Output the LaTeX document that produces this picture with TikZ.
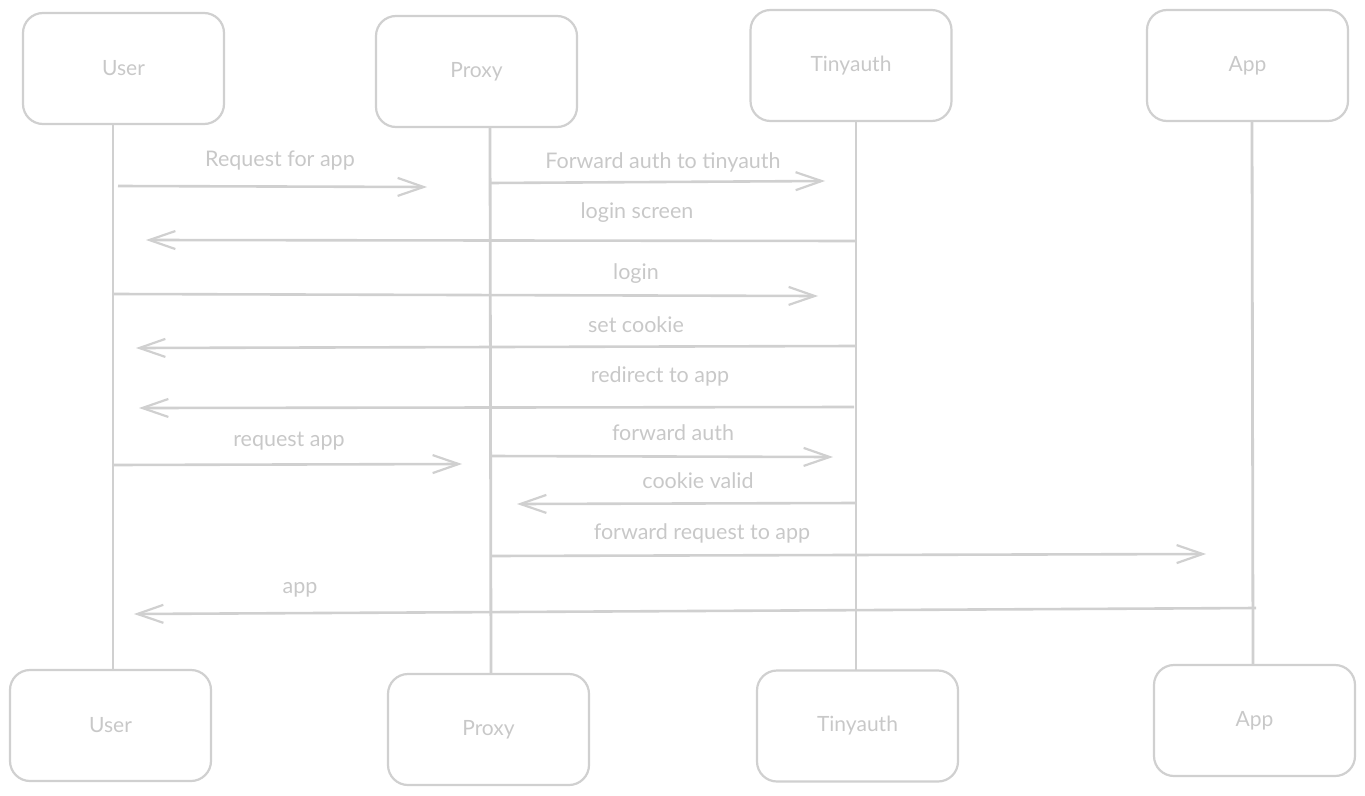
\documentclass[tikz,border=0pt]{standalone}
\usepackage{fontspec}
\setmainfont{Lato}
\usetikzlibrary{arrows.meta}
\definecolor{strk}{RGB}{208,208,208}
\definecolor{txt}{RGB}{200,200,200}
\tikzset{
  actor/.style={draw=strk, line width=2.2pt, rounded corners=20pt, minimum width=201pt, minimum height=111pt, text=txt, font=\fontsize{21}{24}\selectfont, inner sep=0pt},
  life/.style={draw=strk, line width=2.8pt},
  msg/.style={draw=strk, line width=2.6pt, -{Straight Barb[length=26pt,width=18pt,line width=2.2pt]}},
  lbl/.style={text=txt, font=\fontsize{21.5}{24}\selectfont, inner sep=0pt}
}
\begin{document}
\begin{tikzpicture}[x=1pt,y=-1pt]
\useasboundingbox (0,0) rectangle (1365,795);
% top actors
\node[actor] (ut) at (123.5,68.5) {User};
\node[actor] (pt) at (476.5,71.5) {Proxy};
\node[actor] (tt) at (851,65.5) {Tinyauth};
\node[actor] (at) at (1247.5,65.5) {App};
% bottom actors
\node[actor] (ub) at (110.5,725.5) {User};
\node[actor] (pb) at (488.5,729.5) {Proxy};
\node[actor] (tb) at (857.5,726) {Tinyauth};
\node[actor] (ab) at (1254.5,720.5) {App};
% lifelines
\draw[life] (113,124) coordinate (ul1) -- (113,670) coordinate (ul2);
\draw[life] (490,127) coordinate (pl1) -- (491,674) coordinate (pl2);
\draw[life] (856,121) coordinate (tl1) -- (856,671) coordinate (tl2);
\draw[life] (1252,121) coordinate (al1) -- (1253,665) coordinate (al2);
% messages
\coordinate (m1a) at (118,186); \coordinate (m1b) at (427,187);
\draw[msg] (m1a) -- (m1b);
\node[lbl] (l1) at (280,161) {Request for app};
\coordinate (m2a) at (490,183); \coordinate (m2b) at (825,181);
\draw[msg] (m2a) -- (m2b);
\node[lbl] (l2) at (663,162) {Forward auth to tinyauth};
\coordinate (m3a) at (856,241); \coordinate (m3b) at (146,240);
\draw[msg] (m3a) -- (m3b);
\node[lbl] (l3) at (637,213) {login screen};
\coordinate (m4a) at (113,294); \coordinate (m4b) at (818,296);
\draw[msg] (m4a) -- (m4b);
\node[lbl] (l4) at (636,274) {login};
\coordinate (m5a) at (855,346); \coordinate (m5b) at (136,348);
\draw[msg] (m5a) -- (m5b);
\node[lbl] (l5) at (636,325) {set cookie};
\coordinate (m6a) at (854,407); \coordinate (m6b) at (139,408);
\draw[msg] (m6a) -- (m6b);
\node[lbl] (l6) at (660,376) {redirect to app};
\coordinate (m7a) at (113,465); \coordinate (m7b) at (462,464);
\draw[msg] (m7a) -- (m7b);
\node[lbl] (l7) at (289,441) {request app};
\coordinate (m8a) at (490,456); \coordinate (m8b) at (833,457);
\draw[msg] (m8a) -- (m8b);
\node[lbl] (l8) at (673,433) {forward auth};
\coordinate (m9a) at (856,503); \coordinate (m9b) at (517,504);
\draw[msg] (m9a) -- (m9b);
\node[lbl] (l9) at (698,481) {cookie valid};
\coordinate (m10a) at (490,556); \coordinate (m10b) at (1206,554);
\draw[msg] (m10a) -- (m10b);
\node[lbl] (l10) at (702,533) {forward request to app};
\coordinate (m11a) at (1256,608); \coordinate (m11b) at (134,614);
\draw[msg] (m11a) -- (m11b);
\node[lbl] (l11) at (300,590) {app};
\end{tikzpicture}
\end{document}
